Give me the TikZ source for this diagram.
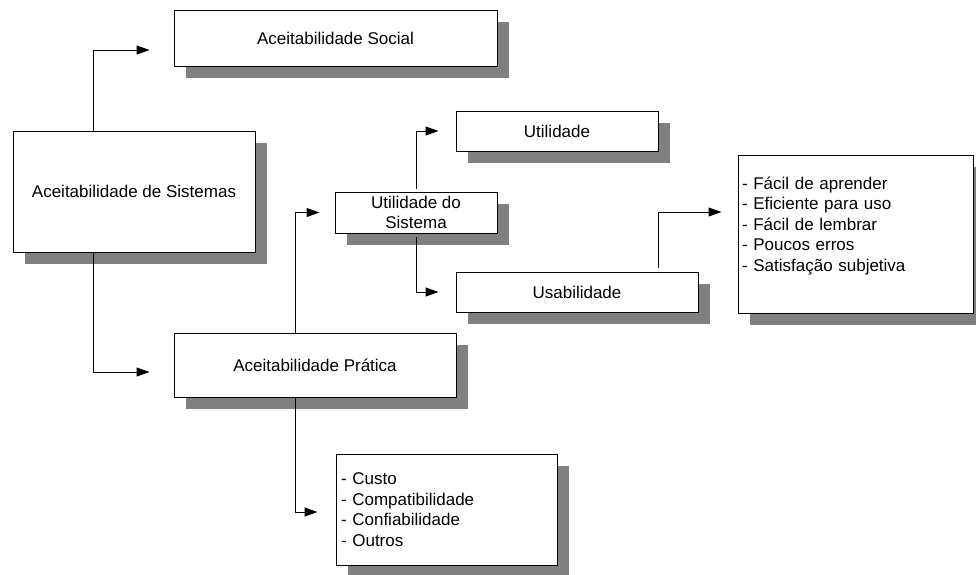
\documentclass[tikz,border=0pt]{standalone}
\usepackage{fontspec}
\setmainfont{Liberation Sans}
\usepackage{tikz}
\usetikzlibrary{arrows.meta,shadows}
\tikzset{
  caixa/.style = {draw=black, fill=white, line width=1pt, inner sep=0pt,
    align=center, font=\fontsize{17pt}{20.5pt}\selectfont,
    drop shadow={shadow xshift=12pt, shadow yshift=-12pt,
      opacity=1, fill=gray}},% caixa com sombra
  lista/.style = {caixa, align=left, inner xsep=4pt},% caixa com itens
  seta/.style = {->, line width=1pt}% conector em cotovelo
}
\begin{document}
\begin{tikzpicture}[x=1pt, y=-1pt, >={Triangle[length=13pt,width=9pt]}]
\useasboundingbox (0,0) rectangle (976,574);
\node [caixa, minimum width=242pt, minimum height=121pt] (sistemas)
    at (134,191.5) {Aceitabilidade de Sistemas};
\node [caixa, minimum width=323pt, minimum height=56pt] (social)
    at (335.5,38) {Aceitabilidade Social};
\node [caixa, minimum width=282pt, minimum height=64pt] (pratica)
    at (315,365) {Aceitabilidade Prática};
\node [caixa, minimum width=162pt, minimum height=41pt] (utilsis)
    at (416,212.5) {Utilidade do\\Sistema};
\node [caixa, minimum width=202pt, minimum height=40pt] (utilidade)
    at (557,131) {Utilidade};
\node [caixa, minimum width=242pt, minimum height=40pt] (usabilidade)
    at (577,292) {Usabilidade};
\node [lista, text width=227pt, minimum height=158pt] (facil)
    at (855.5,234) {- Fácil de aprender\\- Eficiente para uso\\- Fácil de lembrar\\
    - Poucos erros\\- Satisfação subjetiva\\ \mbox{}};
\node [lista, text width=211pt, minimum height=111pt, inner xsep=5pt] (custo)
    at (446.5,509.5) {- Custo\\- Compatibilidade\\- Confiabilidade\\- Outros};
% conectores
\draw [seta] ([xshift=-41pt]sistemas.north) |- ([xshift=-24pt,yshift=-12pt]social.west);
\draw [seta] ([xshift=-41pt]sistemas.south) |- ([xshift=-24pt,yshift=-7pt]pratica.west);
\draw [seta] ([xshift=-20pt]pratica.north) |- ([xshift=-15pt]utilsis.west);
\draw [seta, shorten <=3pt] (utilsis.north) |- ([xshift=-17pt]utilidade.west);
\draw [seta, shorten <=3pt] (utilsis.south) |- ([xshift=-17pt]usabilidade.west);
\draw [seta, shorten <=4pt] ([xshift=81pt]usabilidade.north) |- ([xshift=-16pt,yshift=22pt]facil.west);
\draw [seta] ([xshift=-20pt]pratica.south) |- ([xshift=-18pt,yshift=-2.5pt]custo.west);
\end{tikzpicture}
\end{document}
